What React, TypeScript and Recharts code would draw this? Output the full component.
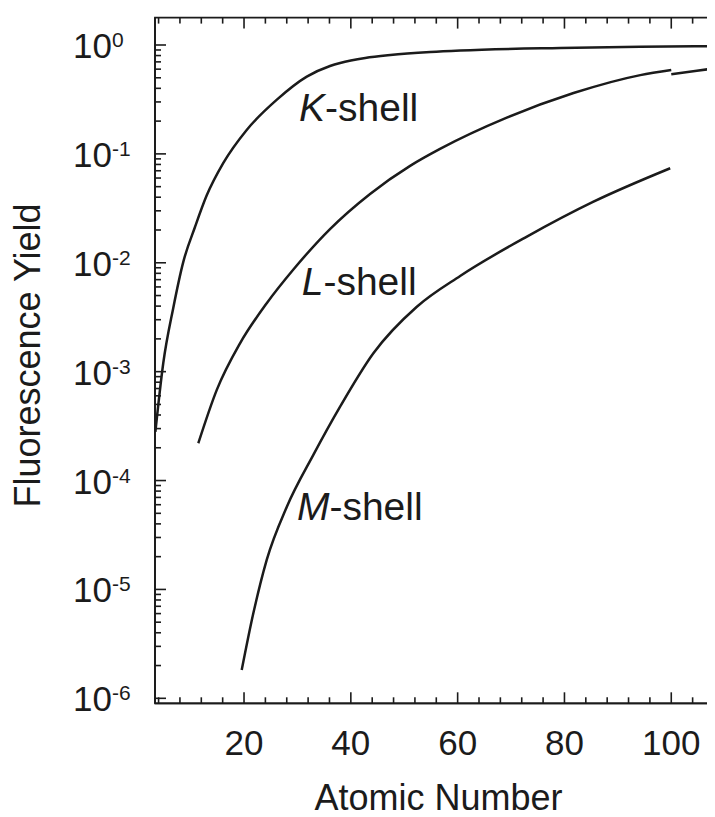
import { LineChart, Line, XAxis, YAxis, ReferenceDot, ReferenceArea } from 'recharts';

const FONT = '"Liberation Sans", Arial, Helvetica, sans-serif';
const INK = '#1b1b1b';

// fluorescence yield vs atomic number
const kShellZ = [3.4, 4.88, 6.75, 8.63, 10.82, 13.0, 16.1, 20.5, 26.1, 31.75, 36.1, 38.0, 42.7, 47.4, 54.9, 60.5, 79.2, 94.2, 109.5];
const kShellYield = [
  2.8e-4, 1.2e-3, 3.85e-3, 0.0102, 0.0213, 0.0414, 0.0822, 0.166, 0.313, 0.512, 0.641, 0.684,
  0.76, 0.809, 0.862, 0.89, 0.939, 0.963, 0.979,
];

const lShellZ = [11.44, 14.9, 19.25, 24.25, 29.24, 36.1, 43.6, 51.1, 56.7, 69.2, 81.7, 94.2, 100];
const lShellYield = [
  2.2e-4, 6.8e-4, 1.82e-3, 4.25e-3, 8.67e-3, 0.0204, 0.0429, 0.0776, 0.111, 0.215, 0.362, 0.529, 0.59,
];
// small step down at Z = 100
const lShellHighZ = [100, 104.8, 109.5];
const lShellHighYield = [0.538, 0.58, 0.624];

const mShellZ = [19.57, 21.74, 24.25, 28.0, 32.98, 37.99, 44.22, 52.36, 60.47, 72.97, 85.44, 99.8];
const mShellYield = [
  1.82e-6, 6.03e-6, 1.87e-5, 5.72e-5, 1.72e-4, 4.77e-4, 1.476e-3, 3.95e-3, 7.57e-3, 0.0174, 0.0364, 0.0738,
];

const shellLetters = ['K', 'L', 'M'];
const shellLabelZ = [30.3, 30.8, 29.9];
const shellLabelYield = [0.2, 5.06e-3, 4.35e-5];

const xMajorTicks = [20, 40, 60, 80, 100];
const xTicks = [
  4, 8, 12, 16, 20, 24, 28, 32, 36, 40, 44, 48, 52, 56, 60, 64, 68, 72, 76, 80, 84, 88, 92, 96,
  100, 104, 108,
];
const yDecades = [-6, -5, -4, -3, -2, -1, 0];
const yMantissas = [1, 2, 3, 4, 5, 6, 7, 8, 9];

const X_DOMAIN = [3.33, 109.5];
const Y_DOMAIN = [9e-7, 1.785];

const yTicks: number[] = [];
yDecades.forEach((d) => {
  yMantissas.forEach((m) => {
    const v = m * Math.pow(10, d);
    if (v >= Y_DOMAIN[0] && v <= Y_DOMAIN[1]) yTicks.push(v);
  });
});

const toPoints = (zs: number[], vs: number[]) => zs.map((z, i) => ({ z, v: vs[i] }));

const isDecade = (v: number) => Math.abs(Math.log10(v) - Math.round(Math.log10(v))) < 1e-6;

// chart box
const W = 714;
const H = 809;
const TOP = 9.6;
const LEFT_W = 147;
const BOTTOM_H = 113.7;
const PLOT_W = W - LEFT_W;
const PLOT_H = H - TOP - BOTTOM_H;

const MAJOR = 11;
const MINOR = 6;
const TICK_W = 1.6;

// bottom tick + the mirrored tick on the top frame
const BottomTick = ({ x, y, payload }: any) => {
  const len = xMajorTicks.includes(payload.value) ? MAJOR : MINOR;
  const top = y - PLOT_H;
  return (
    <g>
      <line x1={x} x2={x} y1={y} y2={y - len} stroke={INK} strokeWidth={TICK_W} />
      <line x1={x} x2={x} y1={top} y2={top + len} stroke={INK} strokeWidth={TICK_W} />
      {len === MAJOR && (
        <text x={x} y={y + 52} textAnchor="middle" fontSize={35} fill={INK}>
          {payload.value}
        </text>
      )}
    </g>
  );
};

// left tick + the mirrored tick on the right frame
const LeftTick = ({ x, y, payload }: any) => {
  const major = isDecade(payload.value);
  const len = major ? MAJOR : MINOR;
  const right = x + PLOT_W;
  const exp = Math.round(Math.log10(payload.value));
  return (
    <g>
      <line x1={x} x2={x + len} y1={y} y2={y} stroke={INK} strokeWidth={TICK_W} />
      <line x1={right} x2={right - len} y1={y} y2={y} stroke={INK} strokeWidth={TICK_W} />
      {major && (
        <text x={x - 82} y={y + 13} fontSize={35} fill={INK}>
          10
          <tspan dy={-11} fontSize={21}>
            {String(exp)}
          </tspan>
        </text>
      )}
    </g>
  );
};

const YTitle = (props: any) => {
  const vb = props.viewBox;
  const cy = vb.y + vb.height / 2 - 5;
  return (
    <text x={32} y={cy} transform={`rotate(-90 32 ${cy})`} textAnchor="middle" fontSize={36} fill={INK}>
      Fluorescence Yield
    </text>
  );
};

const XTitle = (props: any) => {
  const vb = props.viewBox;
  return (
    <text x={vb.x + vb.width / 2} y={vb.y + vb.height - 7} textAnchor="middle" fontSize={36} fill={INK}>
      Atomic Number
    </text>
  );
};

const axisLine = { stroke: INK, strokeWidth: 1.8 };

const curve = {
  xAxisId: 'x',
  yAxisId: 'y',
  dataKey: 'v',
  type: 'monotone' as const,
  dot: false,
  activeDot: false,
  stroke: INK,
  strokeWidth: 2.5,
  isAnimationActive: false,
};

export default function App() {
  return (
    <div style={{ width: 707, height: 809, overflow: 'hidden', fontFamily: FONT }}>
      <LineChart width={W} height={H} margin={{ top: TOP, right: 0, bottom: 0, left: 0 }}>
        <XAxis
          xAxisId="x"
          type="number"
          dataKey="z"
          domain={X_DOMAIN}
          allowDataOverflow
          ticks={xTicks}
          interval={0}
          height={BOTTOM_H}
          tickSize={0}
          tickMargin={0}
          tickLine={false}
          axisLine={axisLine}
          tick={<BottomTick />}
          label={XTitle}
        />
        <YAxis
          yAxisId="y"
          type="number"
          scale="log"
          domain={Y_DOMAIN}
          allowDataOverflow
          ticks={yTicks}
          interval={0}
          width={LEFT_W}
          tickSize={0}
          tickMargin={0}
          tickLine={false}
          axisLine={axisLine}
          tick={<LeftTick />}
          label={YTitle}
        />
        {/* box frame */}
        <ReferenceArea
          xAxisId="x"
          yAxisId="y"
          x1={X_DOMAIN[0]}
          x2={X_DOMAIN[1]}
          y1={Y_DOMAIN[0]}
          y2={Y_DOMAIN[1]}
          fill="none"
          fillOpacity={0}
          stroke={INK}
          strokeWidth={1.8}
          strokeOpacity={1}
          ifOverflow="visible"
        />
        <Line data={toPoints(kShellZ, kShellYield)} {...curve} />
        <Line data={toPoints(lShellZ, lShellYield)} {...curve} />
        <Line data={toPoints(lShellHighZ, lShellHighYield)} {...curve} />
        <Line data={toPoints(mShellZ, mShellYield)} {...curve} />
        {shellLetters.map((letter, i) => (
          <ReferenceDot
            key={letter}
            xAxisId="x"
            yAxisId="y"
            x={shellLabelZ[i]}
            y={shellLabelYield[i]}
            r={0}
            shape={(p: any) => (
              <text x={p.cx} y={p.cy} fontSize={39} fill={INK}>
                <tspan fontStyle="italic">{letter}</tspan>-shell
              </text>
            )}
          />
        ))}
      </LineChart>
    </div>
  );
}
